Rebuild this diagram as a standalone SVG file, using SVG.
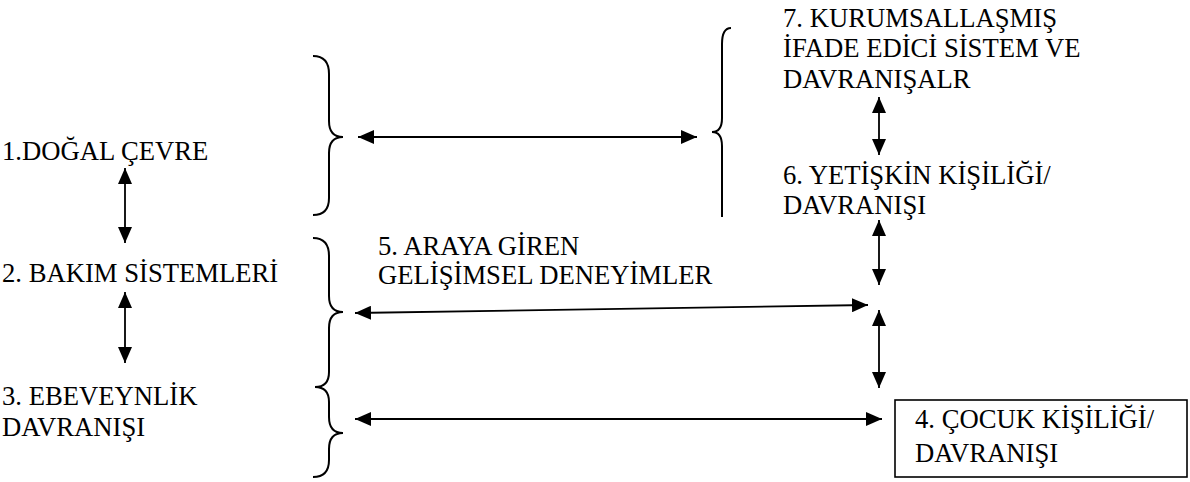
<svg xmlns="http://www.w3.org/2000/svg" width="1190" height="482" viewBox="0 0 1190 482">
<style>
text{font-family:'Liberation Serif',Tinos,'DejaVu Serif',serif;font-size:26.67px;fill:#000}
.br{fill:none;stroke:#000;stroke-width:2}
.ar{fill:none;stroke:#000;stroke-width:1.8;marker-start:url(#ah);marker-end:url(#ah)}
</style>
<defs>
<marker id="ah" viewBox="0 0 16 14" refX="16" refY="7" markerWidth="16" markerHeight="14" markerUnits="userSpaceOnUse" orient="auto-start-reverse">
<path d="M0,0 L16,7 L0,14 Z" fill="#000"/>
</marker>
</defs>
<rect width="1190" height="482" fill="#fff"/>
<g id="n1"><text font-family="Liberation Serif, serif" x="2" y="160">1.DOĞAL ÇEVRE</text></g>
<g id="n2"><text font-family="Liberation Serif, serif" x="2" y="282">2. BAKIM SİSTEMLERİ</text></g>
<g id="n3"><text font-family="Liberation Serif, serif" x="2" y="405">3. EBEVEYNLİK</text><text font-family="Liberation Serif, serif" x="2" y="436">DAVRANIŞI</text></g>
<g id="n5"><text font-family="Liberation Serif, serif" x="378" y="255">5. ARAYA GİREN</text><text font-family="Liberation Serif, serif" x="378" y="284">GELİŞİMSEL DENEYİMLER</text></g>
<g id="n7"><text font-family="Liberation Serif, serif" x="783" y="27">7. KURUMSALLAŞMIŞ</text><text font-family="Liberation Serif, serif" x="783" y="57">İFADE EDİCİ SİSTEM VE</text><text font-family="Liberation Serif, serif" x="783" y="88">DAVRANIŞALR</text></g>
<g id="n6"><text font-family="Liberation Serif, serif" x="783" y="184">6. YETİŞKİN KİŞİLİĞİ/</text><text font-family="Liberation Serif, serif" x="783" y="214">DAVRANIŞI</text></g>
<g id="n4"><rect x="895" y="400" width="292" height="77" fill="#fff" stroke="#000" stroke-width="1.6"/><text font-family="Liberation Serif, serif" x="915" y="428">4. ÇOCUK KİŞİLİĞİ/</text><text font-family="Liberation Serif, serif" x="915" y="462">DAVRANIŞI</text></g>
<g id="braces">
<path class="br" d="M313,56 Q329,56 329,74 L329,121 Q329,137 343,137 Q329,137 329,153 L329,198 Q329,215 313,215"/>
<path class="br" d="M313,238 Q329,238 329,256 L329,296 Q329,312 343,312 Q329,312 329,328 L329,372 Q329,387 315,387 Q329,387 329,402 L329,417 Q329,433 343,433 Q329,433 329,449 L329,460 Q329,477 313,477"/>
<path class="br" d="M731,28 Q722,28 722,44 L722,118 Q722,132 712,132 Q722,132 722,146 L722,217"/>
</g>
<g id="connectors">
<line class="ar" x1="125" y1="168" x2="125" y2="243"/>
<line class="ar" x1="125" y1="292" x2="125" y2="363"/>
<line class="ar" x1="358" y1="137" x2="697" y2="137"/>
<line class="ar" x1="879" y1="97" x2="879" y2="155"/>
<line class="ar" x1="879" y1="220" x2="879" y2="285"/>
<line class="ar" x1="879" y1="310" x2="879" y2="388"/>
<line class="ar" x1="355" y1="313" x2="868" y2="305"/>
<line class="ar" x1="355" y1="419" x2="882" y2="419"/>
</g>
</svg>
